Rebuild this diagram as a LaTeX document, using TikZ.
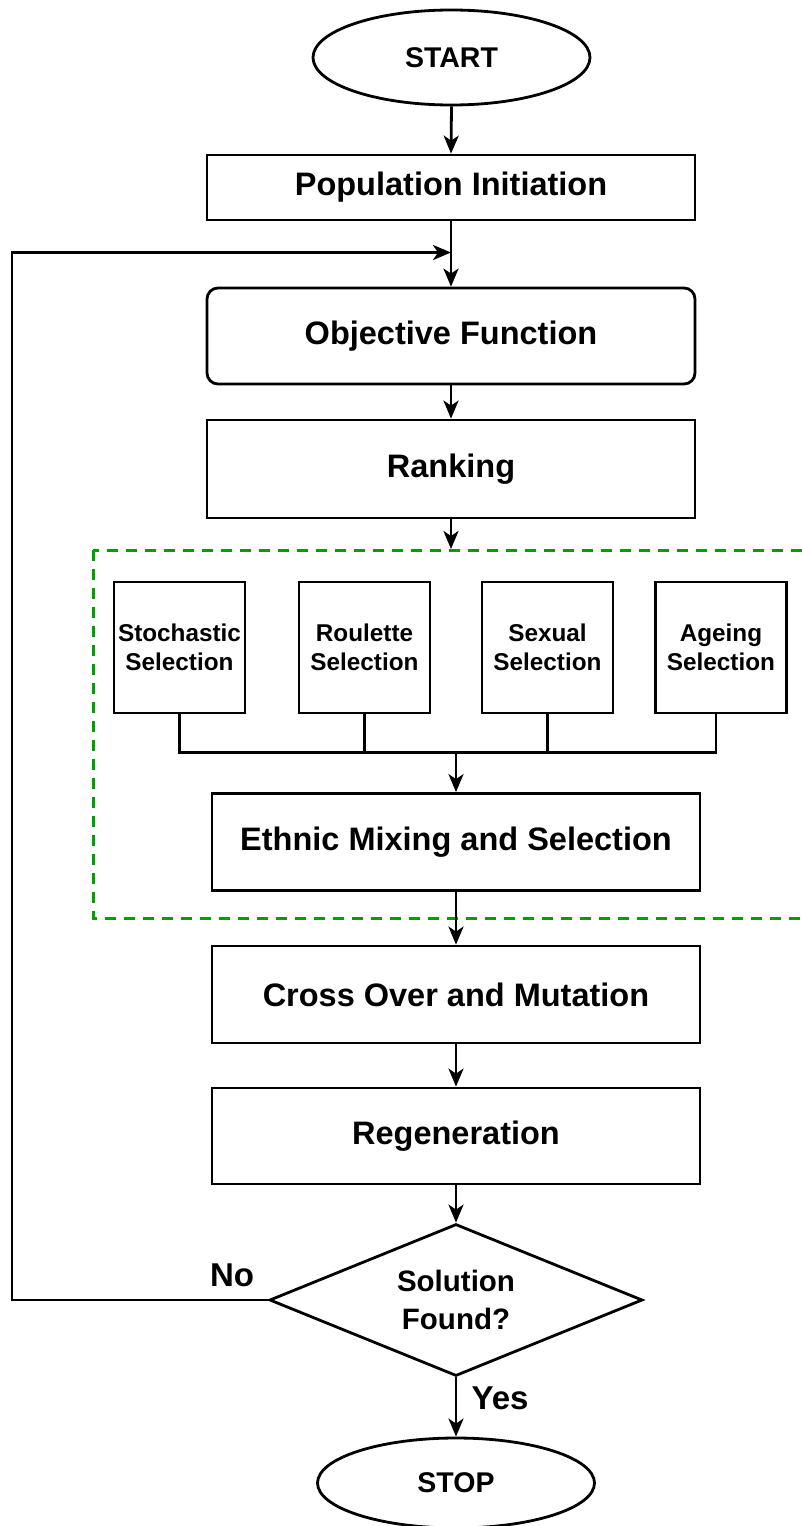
\documentclass[tikz,border=0pt]{standalone}
\usepackage{fontspec}
\setmainfont{Liberation Sans}
\usetikzlibrary{shapes.geometric,arrows.meta}
\definecolor{dashgreen}{RGB}{0,160,0}
\begin{document}
\begin{tikzpicture}[x=1pt,y=-1pt,
  base/.style={draw,line width=2.8pt,inner sep=0pt,align=center},
  bigbox/.style={base,rectangle,minimum width=488pt,font=\fontsize{32.5}{38}\selectfont\bfseries},
  selbox/.style={base,rectangle,minimum width=131pt,minimum height=131pt,font=\fontsize{24.3}{29}\selectfont\bfseries},
  term/.style={base,ellipse,minimum width=277pt,font=\fontsize{28.5}{32}\selectfont\bfseries},
  decision/.style={base,diamond,aspect=2.45,minimum width=373pt,minimum height=152pt,font=\fontsize{29.5}{38}\selectfont\bfseries},
  lbl/.style={inner sep=0pt,font=\fontsize{33}{38}\selectfont\bfseries},
  arr/.style={line width=2.8pt,-{Stealth[length=18pt,width=15pt,inset=5pt]}},
  conn/.style={line width=2.8pt},
  grp/.style={draw=dashgreen,line width=3pt,dash pattern=on 11pt off 8pt}]
\useasboundingbox (0,0) rectangle (801,1526);

\node[term,minimum height=95pt] (start) at (451.5,57.5) {START};
\node[bigbox,minimum height=65pt] (pop) at (451,187.5) {Population Initiation};
\node[bigbox,minimum height=96pt,rounded corners=11pt] (obj) at (451,336) {Objective Function};
\node[bigbox,minimum height=98pt] (rank) at (451,469) {Ranking};

\draw[grp] (93,550) rectangle (830,918);

\node[selbox] (s1) at (179.5,647.5) {Stochastic\\Selection};
\node[selbox] (s2) at (364.5,647.5) {Roulette\\Selection};
\node[selbox] (s3) at (547.5,647.5) {Sexual\\Selection};
\node[selbox] (s4) at (721,647.5) {Ageing\\Selection};

\node[bigbox,minimum height=97pt] (eth) at (456,842) {Ethnic Mixing and Selection};
\node[bigbox,minimum height=97pt] (cross) at (456,994.5) {Cross Over and Mutation};
\node[bigbox,minimum height=96pt] (regen) at (456,1136) {Regeneration};
\node[decision] (dec) at (456,1300) {Solution\\Found?};
\node[term,minimum height=90pt] (stop) at (456,1483) {STOP};

\node[lbl] (no) at (232,1275) {No};
\node[lbl] (yes) at (500,1398) {Yes};

\coordinate (join) at (451,252.5);
\coordinate (lb) at (12,1300);
\coordinate (lt) at (12,252.5);
\coordinate (gtop) at (451,549);
\coordinate (bar) at (456,752.5);

\draw[arr] (start.south) -- (pop.north);
\draw[arr] (pop.south) -- (obj.north);
\draw[arr] (dec.west) -- (lb) -- (lt) -- (join);
\draw[arr] (obj.south) -- (rank.north);
\draw[arr] (rank.south) -- (gtop);

\draw[conn] (s1.south) |- (bar);
\draw[conn] (s2.south) |- (bar);
\draw[conn] (s3.south) |- (bar);
\draw[conn] ([xshift=-5pt]s4.south) |- (bar);
\draw[arr] (bar) -- (eth.north);

\draw[arr] (eth.south) -- (cross.north);
\draw[arr] (cross.south) -- (regen.north);
\draw[arr] (regen.south) -- (dec.north);
\draw[arr] (dec.south) -- (stop.north);
\end{tikzpicture}
\end{document}
